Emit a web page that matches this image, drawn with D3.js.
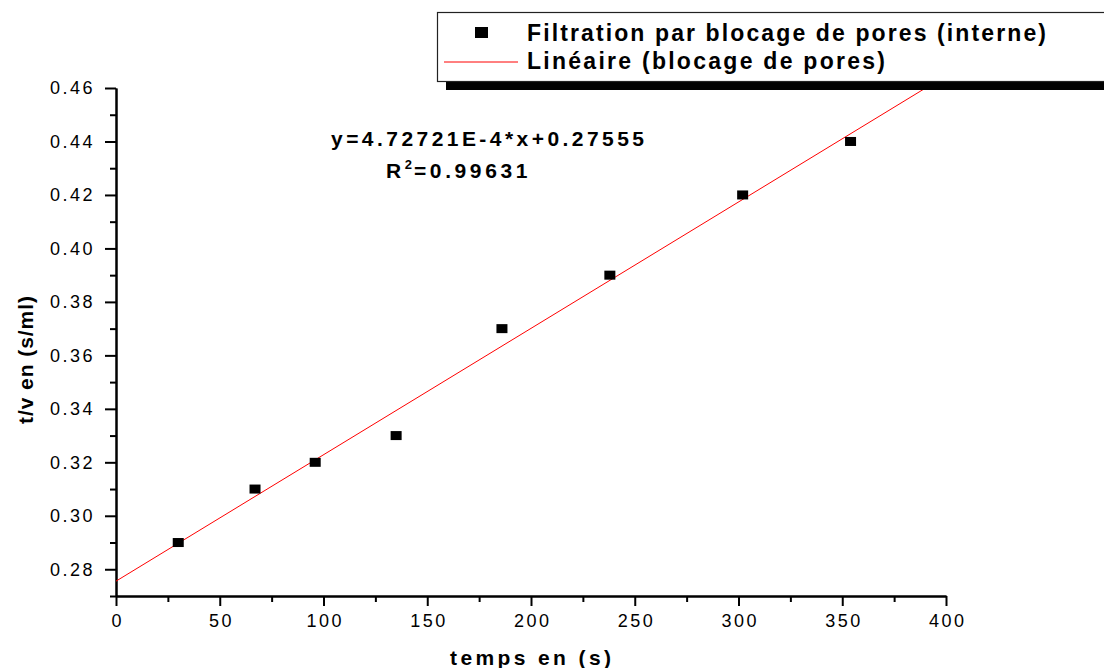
<!DOCTYPE html>
<html>
<head>
<meta charset="utf-8">
<script src="https://cdn.jsdelivr.net/npm/d3@7"></script>
<style>
  html, body { margin: 0; padding: 0; background: #fff; }
  svg { display: block; }
  text { font-family: Arial, "Liberation Sans", sans-serif; fill: #000; }
</style>
</head>
<body>
<svg id="chart" width="1104" height="668"></svg>
<script>
// Measured filtration data: time (s) and t/V (s/ml)
const timeS  = [30, 67, 96, 135, 186, 238, 302, 354];
const tOverV = [0.29, 0.31, 0.32, 0.33, 0.37, 0.39, 0.42, 0.44];

// Linear fit of t/V against t
const fitSlope = 4.72721e-4;
const fitIntercept = 0.27555;
const fitR2 = 0.99631;
const fitXRange = [0, 400];

// Axis ticks
const xMajorTicks = [0, 50, 100, 150, 200, 250, 300, 350, 400];
const xMinorTicks = [25, 75, 125, 175, 225, 275, 325, 375];
const yMajorTicks = [0.28, 0.30, 0.32, 0.34, 0.36, 0.38, 0.40, 0.42, 0.44, 0.46];
const yMinorTicks = [0.27, 0.29, 0.31, 0.33, 0.35, 0.37, 0.39, 0.41, 0.43, 0.45];

// Text
const xTitle = "temps en (s)";
const yTitle = "t/v en (s/ml)";
const legendPoints = "Filtration par blocage de pores (interne)";
const legendFit = "Linéaire (blocage de pores)";

const svg = d3.select("#chart");

const x = d3.scaleLinear().domain([0, 400]).range([116, 946]);
const y = d3.scaleLinear().domain([0.27, 0.46]).range([596, 88]);

// ---- axes ----
const axisColor = "#000";
function styleAxis(g) {
  g.select(".domain").attr("stroke", axisColor).attr("stroke-width", 2);
  g.selectAll(".tick line").attr("stroke", axisColor).attr("stroke-width", 2);
}

const xMinor = svg.append("g").attr("transform", `translate(0,${y.range()[0]})`)
  .call(d3.axisBottom(x).tickValues(xMinorTicks).tickSize(6).tickSizeOuter(0).tickFormat(""));
styleAxis(xMinor);
const yMinor = svg.append("g").attr("transform", `translate(${x.range()[0]},0)`)
  .call(d3.axisLeft(y).tickValues(yMinorTicks).tickSize(6).tickSizeOuter(0).tickFormat(""));
styleAxis(yMinor);

const xAxis = svg.append("g").attr("transform", `translate(0,${y.range()[0]})`)
  .call(d3.axisBottom(x).tickValues(xMajorTicks).tickSize(10).tickSizeOuter(0).tickPadding(8).tickFormat(d3.format("d")));
styleAxis(xAxis);
xAxis.selectAll(".tick text")
  .attr("font-size", 18).attr("letter-spacing", 2.5)
  .attr("font-family", "Arial, 'Liberation Sans', sans-serif")
  .attr("dx", 1.25);

const yAxis = svg.append("g").attr("transform", `translate(${x.range()[0]},0)`)
  .call(d3.axisLeft(y).tickValues(yMajorTicks).tickSize(11).tickSizeOuter(0).tickPadding(10).tickFormat(d3.format(".2f")));
styleAxis(yAxis);
yAxis.selectAll(".tick text")
  .attr("font-size", 18).attr("letter-spacing", 2.5)
  .attr("font-family", "Arial, 'Liberation Sans', sans-serif");

// ---- axis titles ----
svg.append("text")
  .attr("x", 450).attr("y", 665)
  .attr("font-size", 21).attr("font-weight", "bold")
  .attr("textLength", 161).attr("lengthAdjust", "spacing")
  .text(xTitle);

svg.append("text")
  .attr("transform", "translate(33,424) rotate(-90)")
  .attr("font-size", 21).attr("font-weight", "bold")
  .attr("textLength", 128).attr("lengthAdjust", "spacing")
  .text(yTitle);

// ---- fitted line ----
svg.append("line")
  .attr("x1", x(fitXRange[0])).attr("y1", y(fitSlope * fitXRange[0] + fitIntercept))
  .attr("x2", x(fitXRange[1])).attr("y2", y(fitSlope * fitXRange[1] + fitIntercept))
  .attr("stroke", "#ff0000").attr("stroke-width", 1);

// ---- data points ----
const mw = 11, mh = 9;
svg.append("g").selectAll("rect")
  .data(timeS.map((t, i) => [t, tOverV[i]]))
  .join("rect")
  .attr("x", d => x(d[0]) - mw / 2)
  .attr("y", d => y(d[1]) - mh / 2)
  .attr("width", mw).attr("height", mh)
  .attr("fill", "#000");

// ---- fit equation ----
svg.append("text")
  .attr("x", 331).attr("y", 146)
  .attr("font-size", 21).attr("font-weight", "bold")
  .attr("textLength", 313).attr("lengthAdjust", "spacing")
  .text(`y=${(fitSlope * 1e4).toFixed(5)}E-4*x+${fitIntercept}`);

const r2 = svg.append("text")
  .attr("x", 386).attr("y", 178)
  .attr("font-size", 21).attr("font-weight", "bold")
  .attr("letter-spacing", 3.6);
r2.append("tspan").text("R");
r2.append("tspan").attr("font-size", 13).attr("dy", -9).attr("letter-spacing", 2).text("2");
r2.append("tspan").attr("dy", 9).text(`=${fitR2}`);

// ---- legend ----
const legend = svg.append("g");
legend.append("rect")
  .attr("x", 446).attr("y", 20).attr("width", 700).attr("height", 70)
  .attr("fill", "#000");
legend.append("rect")
  .attr("x", 437.5).attr("y", 12.5).attr("width", 700).attr("height", 69)
  .attr("fill", "#fff").attr("stroke", "#222").attr("stroke-width", 1.2);
legend.append("rect")
  .attr("x", 475).attr("y", 27).attr("width", 13).attr("height", 11)
  .attr("fill", "#000");
legend.append("line")
  .attr("x1", 444).attr("x2", 518).attr("y1", 62).attr("y2", 62)
  .attr("stroke", "#ff0000").attr("stroke-width", 1);
legend.append("text")
  .attr("x", 527).attr("y", 41)
  .attr("font-size", 23).attr("font-weight", "bold")
  .attr("textLength", 519).attr("lengthAdjust", "spacing")
  .text(legendPoints);
legend.append("text")
  .attr("x", 527).attr("y", 69)
  .attr("font-size", 23).attr("font-weight", "bold")
  .attr("textLength", 358).attr("lengthAdjust", "spacing")
  .text(legendFit);
</script>
</body>
</html>
